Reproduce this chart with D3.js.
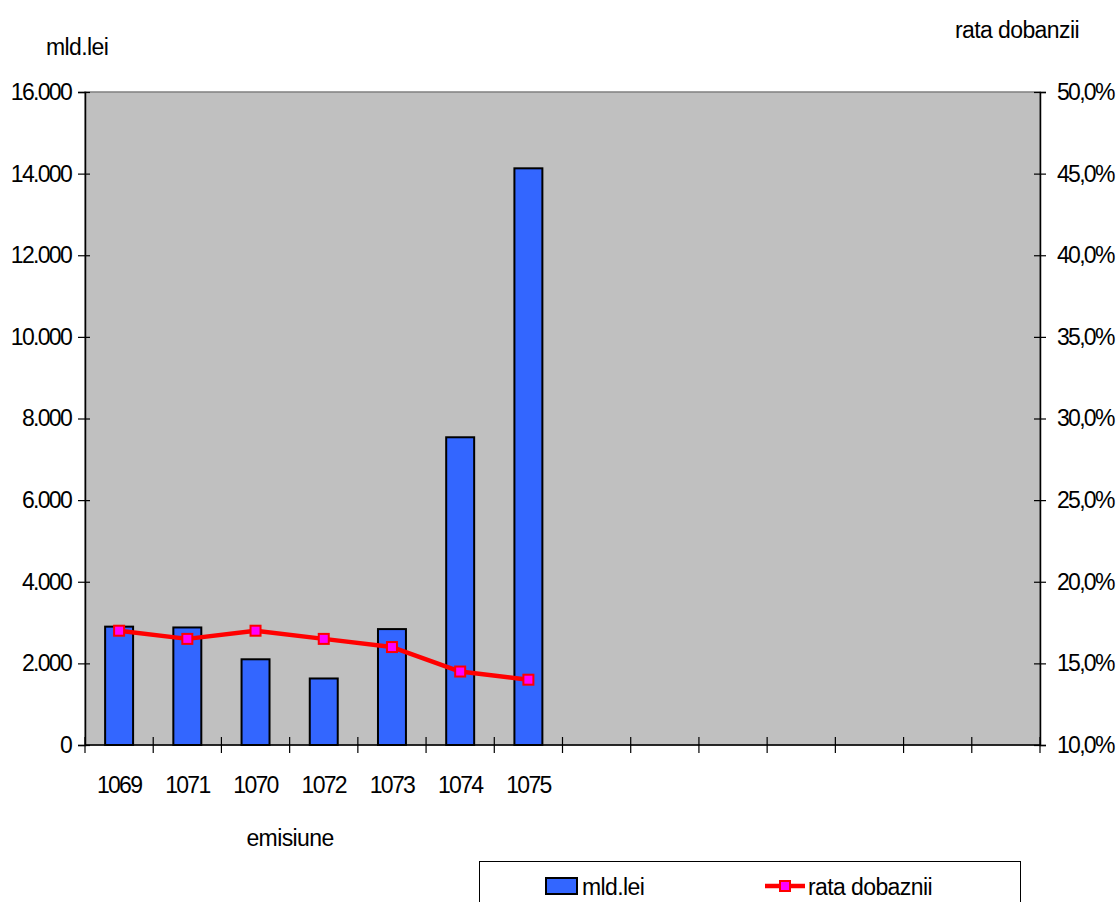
<!DOCTYPE html>
<html>
<head>
<meta charset="utf-8">
<script src="https://cdn.jsdelivr.net/npm/d3@7/dist/d3.min.js"></script>
<style>
    html, body { margin: 0; padding: 0; background: #ffffff; }
    svg { display: block; }
    text { font-family: "Liberation Sans", Arial, sans-serif; font-size: 23px; fill: #000; letter-spacing: -0.6px; }
    text.num { letter-spacing: -1.7px; }
</style>
</head>
<body>
<svg id="chart"></svg>
<script>
'use strict';

// emisiuni (categorii)
const categories = ['1069', '1071', '1070', '1072', '1073', '1074', '1075'];
// mld.lei
const amounts = [2900, 2880, 2100, 1630, 2840, 7540, 14130];
// rata dobanzii
const rates = [0.170, 0.165, 0.170, 0.165, 0.160, 0.145, 0.140];
const leftTicks = [0, 2000, 4000, 6000, 8000, 10000, 12000, 14000, 16000];
const rightTicks = [0.10, 0.15, 0.20, 0.25, 0.30, 0.35, 0.40, 0.45, 0.50];
const slotCount = 14; // axa are 14 pozitii, doar 7 folosite

(function () {
    const d3 = window.d3;
    const width = 1119;
    const height = 902;
    const plot = { left: 85, right: 1040, top: 92, bottom: 745 };

    const ro = d3.formatLocale({ decimal: ',', thousands: '.', grouping: [3], currency: ['', ''] });
    const fmtLeft = ro.format(',.0f');
    const fmtRight = ro.format('.1%');

    const svg = d3.select('#chart')
        .attr('width', width)
        .attr('height', height);

    const x = d3.scaleBand()
        .domain(d3.range(slotCount))
        .range([plot.left, plot.right]);

    const yLeft = d3.scaleLinear()
        .domain([leftTicks[0], leftTicks[leftTicks.length - 1]])
        .range([plot.bottom, plot.top]);

    const yRight = d3.scaleLinear()
        .domain([rightTicks[0], rightTicks[rightTicks.length - 1]])
        .range([plot.bottom, plot.top]);

    // plot area
    svg.append('rect')
        .attr('x', plot.left)
        .attr('y', plot.top)
        .attr('width', plot.right - plot.left)
        .attr('height', plot.bottom - plot.top)
        .attr('fill', '#c0c0c0')
        .attr('stroke', '#808080')
        .attr('stroke-width', 1.5);

    // bars
    const barW = x.bandwidth() * 0.41;
    svg.append('g')
        .selectAll('rect')
        .data(amounts)
        .enter().append('rect')
        .attr('x', (d, i) => x(i) + (x.bandwidth() - barW) / 2)
        .attr('y', d => yLeft(d))
        .attr('width', barW)
        .attr('height', d => yLeft(0) - yLeft(d))
        .attr('fill', '#3366ff')
        .attr('stroke', '#000')
        .attr('stroke-width', 2);

    // left axis
    const axL = svg.append('g')
        .attr('transform', 'translate(' + plot.left + ',0)')
        .call(d3.axisLeft(yLeft).tickValues(leftTicks).tickFormat(fmtLeft).tickSize(7).tickPadding(7));
    axL.select('.domain').attr('stroke', '#000').attr('stroke-width', 1.5);
    axL.selectAll('.tick line').attr('x1', 5).attr('stroke', '#000').attr('stroke-width', 1.2);
    axL.selectAll('text').attr('class', 'num').attr('font-size', null).attr('font-family', null).attr('fill', '#000');

    // right axis
    const axR = svg.append('g')
        .attr('transform', 'translate(' + plot.right + ',0)')
        .call(d3.axisRight(yRight).tickValues(rightTicks).tickFormat(fmtRight).tickSize(6).tickPadding(11));
    axR.select('.domain').attr('stroke', '#000').attr('stroke-width', 1.5);
    axR.selectAll('.tick line').attr('x1', -6).attr('stroke', '#000').attr('stroke-width', 1.2);
    axR.selectAll('text').attr('class', 'num').attr('font-size', null).attr('font-family', null).attr('fill', '#000');

    // bottom axis: ticks between categories
    const axB = svg.append('g');
    axB.append('line')
        .attr('x1', plot.left)
        .attr('x2', plot.right)
        .attr('y1', plot.bottom)
        .attr('y2', plot.bottom)
        .attr('stroke', '#000')
        .attr('stroke-width', 1.5);
    axB.selectAll('.xtick')
        .data(d3.range(slotCount + 1))
        .enter().append('line')
        .attr('class', 'xtick')
        .attr('x1', i => i < slotCount ? x(i) : plot.right)
        .attr('x2', i => i < slotCount ? x(i) : plot.right)
        .attr('y1', plot.bottom - 8)
        .attr('y2', plot.bottom + 8)
        .attr('stroke', '#000')
        .attr('stroke-width', 1.2);
    axB.selectAll('.xlabel')
        .data(categories)
        .enter().append('text')
        .attr('class', 'xlabel num')
        .attr('x', (d, i) => x(i) + x.bandwidth() / 2)
        .attr('y', 793)
        .attr('text-anchor', 'middle')
        .text(d => d);

    // line series
    const line = d3.line()
        .x((d, i) => x(i) + x.bandwidth() / 2)
        .y(d => yRight(d));
    svg.append('path')
        .datum(rates)
        .attr('fill', 'none')
        .attr('stroke', '#ff0000')
        .attr('stroke-width', 4.5)
        .attr('stroke-linejoin', 'round')
        .attr('d', line);
    svg.append('g')
        .selectAll('rect')
        .data(rates)
        .enter().append('rect')
        .attr('x', (d, i) => x(i) + x.bandwidth() / 2 - 5)
        .attr('y', d => yRight(d) - 5)
        .attr('width', 10)
        .attr('height', 10)
        .attr('fill', '#ff00ff')
        .attr('stroke', '#ff0000')
        .attr('stroke-width', 2);

    // titles
    svg.append('text').attr('x', 46).attr('y', 55).text('mld.lei');
    svg.append('text').attr('x', 955).attr('y', 38).text('rata dobanzii');
    svg.append('text').attr('x', 290).attr('y', 846).attr('text-anchor', 'middle').text('emisiune');

    // legend
    const lg = svg.append('g');
    lg.append('rect')
        .attr('x', 479.5)
        .attr('y', 861.5)
        .attr('width', 541)
        .attr('height', 60)
        .attr('fill', '#fff')
        .attr('stroke', '#000')
        .attr('stroke-width', 1);
    lg.append('rect')
        .attr('x', 546)
        .attr('y', 878)
        .attr('width', 31)
        .attr('height', 16)
        .attr('fill', '#3366ff')
        .attr('stroke', '#000')
        .attr('stroke-width', 2);
    lg.append('text').attr('x', 582).attr('y', 895).text('mld.lei');
    lg.append('line')
        .attr('x1', 765)
        .attr('x2', 805)
        .attr('y1', 886)
        .attr('y2', 886)
        .attr('stroke', '#ff0000')
        .attr('stroke-width', 4.5);
    lg.append('rect')
        .attr('x', 780)
        .attr('y', 881)
        .attr('width', 10)
        .attr('height', 10)
        .attr('fill', '#ff00ff')
        .attr('stroke', '#ff0000')
        .attr('stroke-width', 2);
    lg.append('text').attr('x', 808).attr('y', 895).text('rata dobaznii');
}());
</script>
</body>
</html>
